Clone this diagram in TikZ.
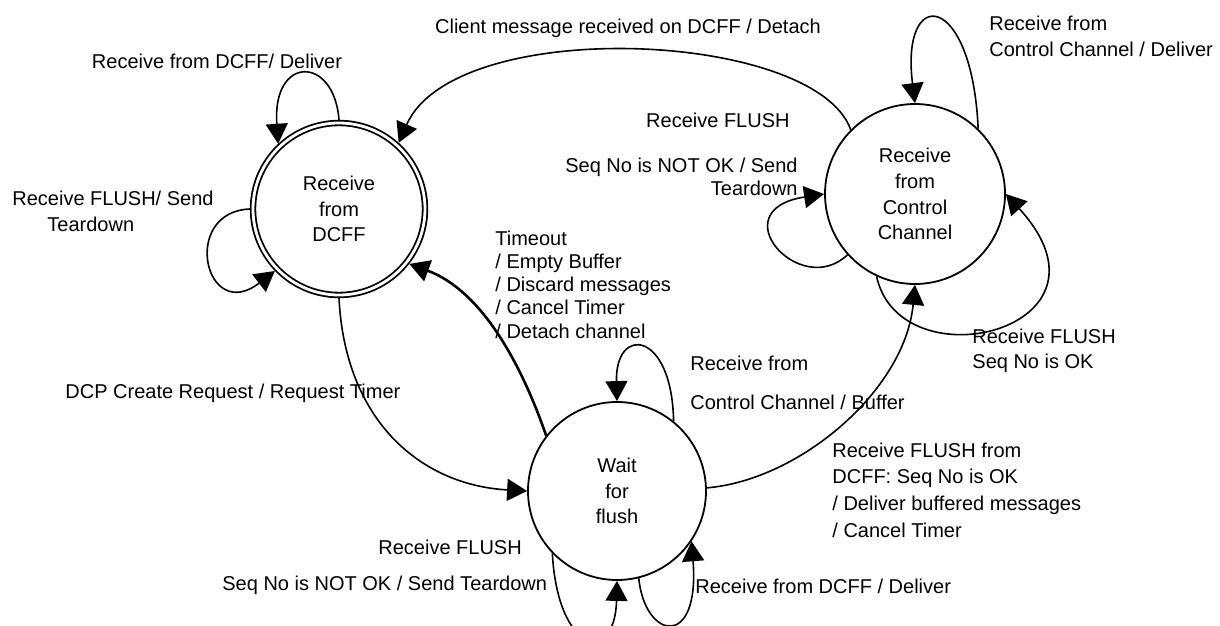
\documentclass[tikz,border=0pt]{standalone}
\usepackage{fontspec}
\setmainfont{Liberation Sans}
\usetikzlibrary{arrows.meta}
\tikzset{
  stt/.style={circle, draw, line width=0.9pt, inner sep=0pt, align=center,
    font=\fontsize{10}{12.9}\selectfont},
  lbl/.style={inner sep=0pt, font=\fontsize{10}{11.6}\selectfont},
  tr/.style={draw, line width=0.8pt, -{Triangle[length=10pt,width=11pt]}},
  trb/.style={tr, line width=1.3pt}
}
\begin{document}
\begin{tikzpicture}[x=0.5pt, y=-0.5pt]
\useasboundingbox (0,0) rectangle (1220,626);
\clip (0,0) rectangle (1220,626);
\fill[white] (0,0) rectangle (1220,626);

% states
\node[stt, double, double distance=1.4pt, minimum size=86pt, outer sep=1.6pt] (dcff) at (339,209) {Receive\\from\\DCFF};
\node[stt, minimum size=90pt] (cc) at (915,194) {Receive\\from\\Control\\Channel};
\node[stt, minimum size=89pt] (wf) at (617,491) {Wait\\for\\flush};

% DCFF self loops
\draw[tr] (dcff.90) .. controls (334,55) and (272,55) .. (dcff.133);
\node[lbl] (l1) at (217,61) {Receive from DCFF/ Deliver};
\draw[tr] (dcff.180) .. controls (180,212) and (205,325) .. (dcff.224);
\node[lbl, anchor=west] (l2a) at (12,198) {Receive FLUSH/ Send};
\node[lbl, anchor=west] (l2b) at (47,224) {Teardown};

% CC -> DCFF
\draw[tr] (cc.135) .. controls (815,30) and (455,15) .. (dcff.48);
\node[lbl] (l3) at (628,28) {Client message received on DCFF / Detach};

% CC self loops
\draw[tr] (cc.46) .. controls (972,-10) and (900,-15) .. (cc.90);
\node[lbl, anchor=west, align=left, font=\fontsize{10}{13}\selectfont] (l4) at (989,36) {Receive from\\Control Channel / Deliver};
\draw[tr] (cc.222) .. controls (800,300) and (720,210) .. (cc.180);
\node[lbl, anchor=east] (l5a) at (790,120) {Receive FLUSH};
\node[lbl, anchor=east, align=right] (l5b) at (798,176.5) {Seq No is NOT OK / Send\\Teardown};
\draw[tr] (cc.245) .. controls (900,385) and (1130,330) .. (cc.0);
\node[lbl, anchor=west, align=left, font=\fontsize{10}{12.5}\selectfont] (l6) at (972,350.5) {Receive FLUSH\\Seq No is OK};

% DCFF -> Wait
\draw[tr] (dcff.270) .. controls (345,420) and (420,485) .. (wf.180);
\node[lbl, anchor=west] (l7) at (65,393) {DCP Create Request / Request Timer};

% Wait -> DCFF
\draw[trb] (wf.142) .. controls (520,360) and (480,290) .. (dcff.322);
\node[lbl, anchor=west, align=left] (l8) at (495,284.5) {Timeout\\/ Empty Buffer\\/ Discard messages\\/ Cancel Timer\\/ Detach channel};

% Wait self loops
\draw[tr] (wf.51) .. controls (672,330) and (615,325) .. (wf.90);
\node[lbl, anchor=west] (l9a) at (690,363) {Receive from};
\node[lbl, anchor=west] (l9b) at (690,402) {Control Channel / Buffer};
\draw[tr] (wf.284) .. controls (645,640) and (700,650) .. (wf.326);
\node[lbl, anchor=west] (l11) at (695,586) {Receive from DCFF / Deliver};
\draw[tr] (wf.224) .. controls (558,655) and (615,665) .. (wf.270);
\node[lbl, anchor=west] (l12a) at (378,547) {Receive FLUSH};
\node[lbl, anchor=west] (l12b) at (222,585) {Seq No is NOT OK / Send Teardown};

% Wait -> CC
\draw[tr] (wf.2) .. controls (800,480) and (905,390) .. (cc.270);
\node[lbl, anchor=west, align=left, font=\fontsize{10}{13.3}\selectfont] (l10) at (832,490) {Receive FLUSH from\\DCFF: Seq No is OK\\/ Deliver buffered messages\\/ Cancel Timer};
\end{tikzpicture}
\end{document}
